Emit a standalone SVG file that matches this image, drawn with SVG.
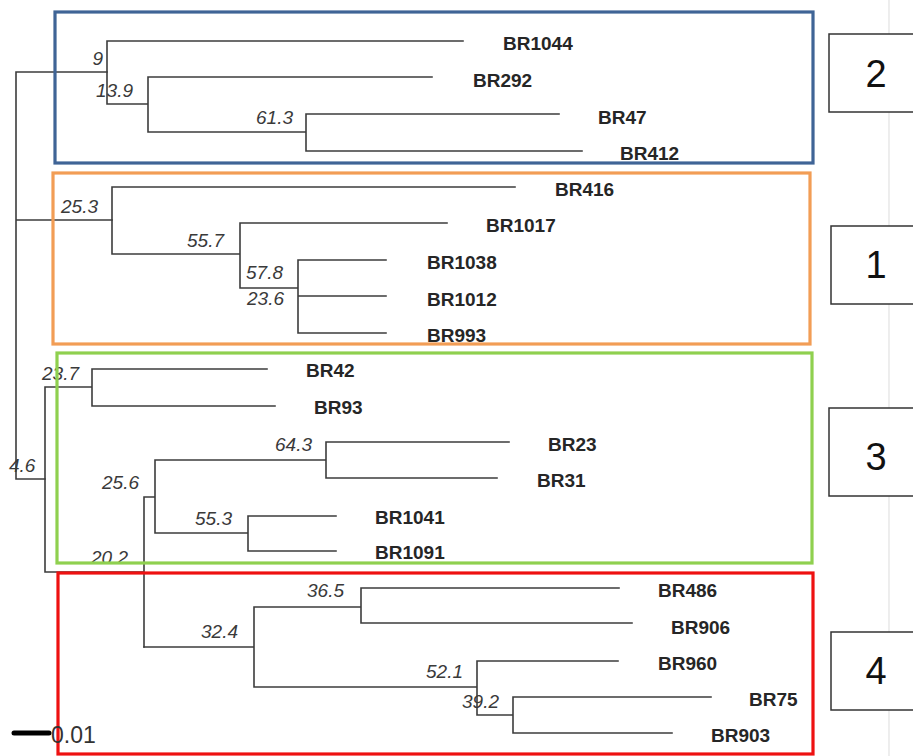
<svg xmlns="http://www.w3.org/2000/svg" width="913" height="756" viewBox="0 0 913 756">
<style>
.br{fill:none;stroke:#3c3c3c;stroke-width:1.6;stroke-linecap:square}
.nm{font-family:"Liberation Sans",Arial,sans-serif;font-weight:bold;font-size:19px;fill:#262626}
.bs{font-family:"Liberation Sans",Arial,sans-serif;font-style:italic;font-size:19px;fill:#3a3a3a}
.grp{fill:none;stroke-width:3.2}
.lb{fill:#fff;stroke:#333;stroke-width:1.5}
.lt{font-family:"Liberation Sans",Arial,sans-serif;font-size:38px;fill:#111;text-anchor:middle}
</style>
<rect width="913" height="756" fill="#fff"/>
<line x1="889" y1="0" x2="889" y2="756" stroke="#e2e2e2" stroke-width="1.2"/>
<g id="connectors">
<path class="br" d="M16,72V479M16,72H107M16,220H112M16,479H45"/>
<path class="br" d="M107,41V104M107,41H463M107,104H148M148,77V132M148,77H432M148,132H306M306,114V151M306,114H559M306,151H582"/>
<path class="br" d="M112,187V254M112,187H515M112,254H240M240,223V288M240,223H447M240,288H298M298,260V333M298,260H386M298,296H386M298,333H386"/>
<path class="br" d="M45,387V572M45,387H92M92,369V406M92,369H267M92,406H275M45,572H144M144,497V647M144,497H155M155,460V533M155,460H326M326,442V478M326,442H509M326,478H497M155,533H248M248,516V551M248,516H336M248,551H336"/>
<path class="br" d="M144,647H254M254,607V687M254,607H361M361,588V623M361,588H619M361,623H632M254,687H477M477,661V715M477,661H618M477,715H513M513,697V733M513,697H711M513,733H672"/>
</g>
<g id="leaves">
<text class="nm" x="503" y="50">BR1044</text>
<text class="nm" x="473" y="87">BR292</text>
<text class="nm" x="598" y="124">BR47</text>
<text class="nm" x="620" y="160">BR412</text>
<text class="nm" x="555" y="196">BR416</text>
<text class="nm" x="486" y="232">BR1017</text>
<text class="nm" x="427" y="269">BR1038</text>
<text class="nm" x="427" y="306">BR1012</text>
<text class="nm" x="427" y="342">BR993</text>
<text class="nm" x="306" y="377">BR42</text>
<text class="nm" x="314" y="414">BR93</text>
<text class="nm" x="548" y="451">BR23</text>
<text class="nm" x="537" y="487">BR31</text>
<text class="nm" x="375" y="524">BR1041</text>
<text class="nm" x="375" y="559">BR1091</text>
<text class="nm" x="658" y="597">BR486</text>
<text class="nm" x="671" y="634">BR906</text>
<text class="nm" x="658" y="670">BR960</text>
<text class="nm" x="749" y="706">BR75</text>
<text class="nm" x="711" y="742">BR903</text>
</g>
<g id="support">
<text class="bs" x="103" y="65" text-anchor="end">9</text>
<text class="bs" x="96" y="97">13.9</text>
<text class="bs" x="293" y="124" text-anchor="end">61.3</text>
<text class="bs" x="61" y="213">25.3</text>
<text class="bs" x="187" y="247">55.7</text>
<text class="bs" x="246" y="279">57.8</text>
<text class="bs" x="247" y="305">23.6</text>
<text class="bs" x="42" y="380">23.7</text>
<text class="bs" x="9" y="472">4.6</text>
<text class="bs" x="102" y="489">25.6</text>
<text class="bs" x="275" y="451">64.3</text>
<text class="bs" x="195" y="525">55.3</text>
<text class="bs" x="91" y="564">20.2</text>
<text class="bs" x="307" y="597">36.5</text>
<text class="bs" x="201" y="638">32.4</text>
<text class="bs" x="426" y="678">52.1</text>
<text class="bs" x="462" y="708">39.2</text>
</g>
<g id="cluster-2"><rect class="grp" x="55" y="12" width="758" height="151" stroke="#3f6496"/></g>
<g id="cluster-1"><rect class="grp" x="53" y="173" width="757" height="171" stroke="#f29d55"/></g>
<g id="cluster-3"><rect class="grp" x="57" y="353" width="755" height="210" stroke="#8fd04f"/></g>
<g id="cluster-4"><rect class="grp" x="58" y="573" width="755" height="181" stroke="#ee1111"/></g>
<g id="scale">
<line x1="14" y1="733" x2="49" y2="733" stroke="#000" stroke-width="5" stroke-linecap="round"/>
<text x="51" y="743" font-family="Liberation Sans,Arial,sans-serif" font-size="23" fill="#333">0.01</text>
</g>
<g id="label-2"><rect class="lb" x="829" y="34" width="100" height="78"/><text class="lt" x="876" y="87">2</text></g>
<g id="label-1"><rect class="lb" x="831" y="226" width="100" height="78"/><text class="lt" x="876" y="278">1</text></g>
<g id="label-3"><rect class="lb" x="829" y="408" width="100" height="88"/><text class="lt" x="876" y="470">3</text></g>
<g id="label-4"><rect class="lb" x="831" y="632" width="100" height="78"/><text class="lt" x="876" y="684">4</text></g>
</svg>
